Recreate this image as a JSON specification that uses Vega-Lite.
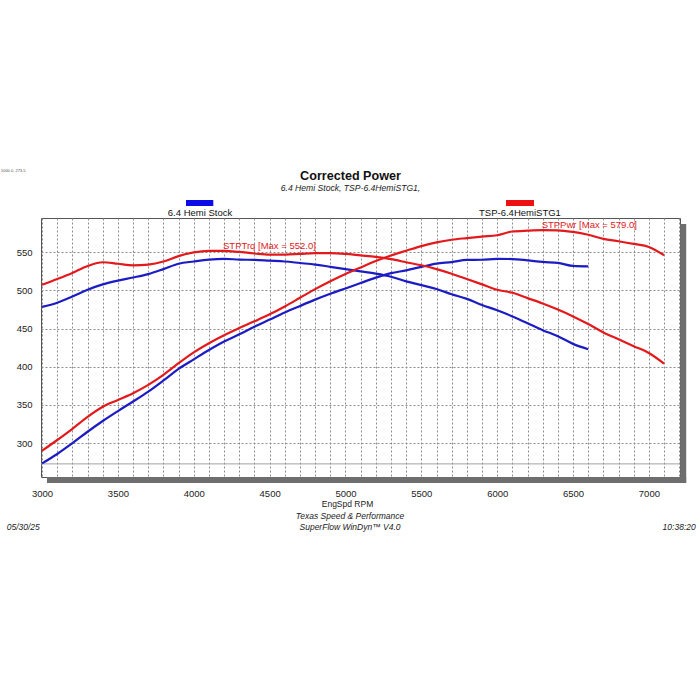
{
  "$schema": "https://vega.github.io/schema/vega-lite/v6.json",
  "description": "Corrected Power dyno chart",
  "width": 639,
  "height": 259,
  "autosize": {"type": "none"},
  "padding": {"left": 41, "top": 218, "right": 20, "bottom": 223},
  "background": "white",
  "title": {
    "text": "Corrected Power",
    "subtitle": "6.4 Hemi Stock, TSP-6.4HemiSTG1,",
    "font": "Liberation Sans",
    "fontSize": 12.6,
    "fontWeight": "bold",
    "color": "#111111",
    "subtitleFont": "Liberation Sans",
    "subtitleFontSize": 8.6,
    "subtitleFontStyle": "italic",
    "subtitleColor": "#222222",
    "subtitlePadding": 2,
    "anchor": "middle",
    "dx": -10,
    "offset": -24
  },
  "config": {
    "view": {"stroke": "#555555", "strokeWidth": 1},
    "axis": {
      "labelFont": "Liberation Sans",
      "labelFontSize": 9.5,
      "labelColor": "#222222",
      "titleFont": "Liberation Sans",
      "titleFontWeight": "normal",
      "titleColor": "#222222",
      "domain": false,
      "ticks": false,
      "tickSize": 0,
      "grid": true,
      "gridColor": "#8c8c8c",
      "gridDash": [2, 2],
      "gridWidth": 1,
      "labelOverlap": false
    },
    "axisX": {"labelOverlap": false, "labelFlush": false},
    "text": {"font": "Liberation Sans"}
  },
  "layer": [
    {
      "data": {"values": [{}]},
      "mark": {"type": "rule", "color": "#6e6e6e", "strokeWidth": 6, "strokeCap": "butt"},
      "encoding": {
        "x": {"datum": 7226.1, "type": "quantitative", "scale": {"domain": [2993, 7205], "nice": false, "zero": false}},
        "y": {"datum": 587.1, "type": "quantitative", "scale": {"domain": [255.5, 595], "nice": false, "zero": false}},
        "y2": {"datum": 247.6}
      }
    },
    {
      "data": {"values": [{}]},
      "mark": {"type": "rule", "color": "#6e6e6e", "strokeWidth": 6, "strokeCap": "butt"},
      "encoding": {
        "x": {"datum": 3032.5, "type": "quantitative"},
        "x2": {"datum": 7245.6},
        "y": {"datum": 251.6, "type": "quantitative"}
      }
    },
    {
      "data": {"values": [{}]},
      "mark": {"type": "rule", "color": "#a0a0a0", "strokeWidth": 1},
      "encoding": {
        "y": {"datum": 272.7, "type": "quantitative"}
      }
    },
    {
      "data": {
        "values": [
          {"rpm": 3000, "run": "6.4 Hemi Stock", "STPTrq": 478.5, "STPPwr": 273.3},
          {"rpm": 3100, "run": "6.4 Hemi Stock", "STPTrq": 484, "STPPwr": 285.7},
          {"rpm": 3200, "run": "6.4 Hemi Stock", "STPTrq": 492, "STPPwr": 299.8},
          {"rpm": 3300, "run": "6.4 Hemi Stock", "STPTrq": 501, "STPPwr": 314.8},
          {"rpm": 3400, "run": "6.4 Hemi Stock", "STPTrq": 508, "STPPwr": 328.9},
          {"rpm": 3500, "run": "6.4 Hemi Stock", "STPTrq": 513, "STPPwr": 341.9},
          {"rpm": 3600, "run": "6.4 Hemi Stock", "STPTrq": 517, "STPPwr": 354.4},
          {"rpm": 3700, "run": "6.4 Hemi Stock", "STPTrq": 521.5, "STPPwr": 367.4},
          {"rpm": 3800, "run": "6.4 Hemi Stock", "STPTrq": 528, "STPPwr": 382.0},
          {"rpm": 3900, "run": "6.4 Hemi Stock", "STPTrq": 535, "STPPwr": 397.3},
          {"rpm": 4000, "run": "6.4 Hemi Stock", "STPTrq": 538, "STPPwr": 409.7},
          {"rpm": 4100, "run": "6.4 Hemi Stock", "STPTrq": 540.5, "STPPwr": 421.9},
          {"rpm": 4200, "run": "6.4 Hemi Stock", "STPTrq": 541.5, "STPPwr": 433.0},
          {"rpm": 4300, "run": "6.4 Hemi Stock", "STPTrq": 540.5, "STPPwr": 442.5},
          {"rpm": 4400, "run": "6.4 Hemi Stock", "STPTrq": 540, "STPPwr": 452.4},
          {"rpm": 4500, "run": "6.4 Hemi Stock", "STPTrq": 539, "STPPwr": 461.8},
          {"rpm": 4600, "run": "6.4 Hemi Stock", "STPTrq": 538, "STPPwr": 471.2},
          {"rpm": 4700, "run": "6.4 Hemi Stock", "STPTrq": 536, "STPPwr": 479.7},
          {"rpm": 4800, "run": "6.4 Hemi Stock", "STPTrq": 534, "STPPwr": 488.0},
          {"rpm": 4900, "run": "6.4 Hemi Stock", "STPTrq": 531, "STPPwr": 495.7},
          {"rpm": 5000, "run": "6.4 Hemi Stock", "STPTrq": 528, "STPPwr": 502.7},
          {"rpm": 5100, "run": "6.4 Hemi Stock", "STPTrq": 525, "STPPwr": 509.8},
          {"rpm": 5200, "run": "6.4 Hemi Stock", "STPTrq": 522, "STPPwr": 516.8},
          {"rpm": 5300, "run": "6.4 Hemi Stock", "STPTrq": 518, "STPPwr": 522.7},
          {"rpm": 5400, "run": "6.4 Hemi Stock", "STPTrq": 512, "STPPwr": 526.4},
          {"rpm": 5500, "run": "6.4 Hemi Stock", "STPTrq": 507, "STPPwr": 530.9},
          {"rpm": 5600, "run": "6.4 Hemi Stock", "STPTrq": 502, "STPPwr": 535.3},
          {"rpm": 5700, "run": "6.4 Hemi Stock", "STPTrq": 495, "STPPwr": 537.2},
          {"rpm": 5800, "run": "6.4 Hemi Stock", "STPTrq": 489, "STPPwr": 540.0},
          {"rpm": 5900, "run": "6.4 Hemi Stock", "STPTrq": 481, "STPPwr": 540.3},
          {"rpm": 6000, "run": "6.4 Hemi Stock", "STPTrq": 474, "STPPwr": 541.5},
          {"rpm": 6100, "run": "6.4 Hemi Stock", "STPTrq": 466, "STPPwr": 541.2},
          {"rpm": 6200, "run": "6.4 Hemi Stock", "STPTrq": 457, "STPPwr": 539.5},
          {"rpm": 6300, "run": "6.4 Hemi Stock", "STPTrq": 448, "STPPwr": 537.4},
          {"rpm": 6400, "run": "6.4 Hemi Stock", "STPTrq": 440, "STPPwr": 536.2},
          {"rpm": 6500, "run": "6.4 Hemi Stock", "STPTrq": 430, "STPPwr": 532.2},
          {"rpm": 6600, "run": "6.4 Hemi Stock", "STPTrq": 423, "STPPwr": 531.6},
          {"rpm": 3000, "run": "TSP-6.4HemiSTG1", "STPTrq": 507.5, "STPPwr": 289.9},
          {"rpm": 3100, "run": "TSP-6.4HemiSTG1", "STPTrq": 515, "STPPwr": 304.0},
          {"rpm": 3200, "run": "TSP-6.4HemiSTG1", "STPTrq": 523, "STPPwr": 318.7},
          {"rpm": 3300, "run": "TSP-6.4HemiSTG1", "STPTrq": 532, "STPPwr": 334.3},
          {"rpm": 3400, "run": "TSP-6.4HemiSTG1", "STPTrq": 537, "STPPwr": 347.6},
          {"rpm": 3500, "run": "TSP-6.4HemiSTG1", "STPTrq": 535, "STPPwr": 356.5},
          {"rpm": 3600, "run": "TSP-6.4HemiSTG1", "STPTrq": 533, "STPPwr": 365.3},
          {"rpm": 3700, "run": "TSP-6.4HemiSTG1", "STPTrq": 534, "STPPwr": 376.2},
          {"rpm": 3800, "run": "TSP-6.4HemiSTG1", "STPTrq": 538, "STPPwr": 389.3},
          {"rpm": 3900, "run": "TSP-6.4HemiSTG1", "STPTrq": 545, "STPPwr": 404.7},
          {"rpm": 4000, "run": "TSP-6.4HemiSTG1", "STPTrq": 550, "STPPwr": 418.9},
          {"rpm": 4100, "run": "TSP-6.4HemiSTG1", "STPTrq": 552, "STPPwr": 430.9},
          {"rpm": 4200, "run": "TSP-6.4HemiSTG1", "STPTrq": 552, "STPPwr": 441.4},
          {"rpm": 4300, "run": "TSP-6.4HemiSTG1", "STPTrq": 550.5, "STPPwr": 450.7},
          {"rpm": 4400, "run": "TSP-6.4HemiSTG1", "STPTrq": 548.5, "STPPwr": 459.5},
          {"rpm": 4500, "run": "TSP-6.4HemiSTG1", "STPTrq": 547, "STPPwr": 468.7},
          {"rpm": 4600, "run": "TSP-6.4HemiSTG1", "STPTrq": 547, "STPPwr": 479.1},
          {"rpm": 4700, "run": "TSP-6.4HemiSTG1", "STPTrq": 548, "STPPwr": 490.4},
          {"rpm": 4800, "run": "TSP-6.4HemiSTG1", "STPTrq": 549, "STPPwr": 501.8},
          {"rpm": 4900, "run": "TSP-6.4HemiSTG1", "STPTrq": 549, "STPPwr": 512.2},
          {"rpm": 5000, "run": "TSP-6.4HemiSTG1", "STPTrq": 548, "STPPwr": 521.7},
          {"rpm": 5100, "run": "TSP-6.4HemiSTG1", "STPTrq": 546, "STPPwr": 530.2},
          {"rpm": 5200, "run": "TSP-6.4HemiSTG1", "STPTrq": 544, "STPPwr": 538.6},
          {"rpm": 5300, "run": "TSP-6.4HemiSTG1", "STPTrq": 541, "STPPwr": 545.9},
          {"rpm": 5400, "run": "TSP-6.4HemiSTG1", "STPTrq": 537, "STPPwr": 552.1},
          {"rpm": 5500, "run": "TSP-6.4HemiSTG1", "STPTrq": 533, "STPPwr": 558.2},
          {"rpm": 5600, "run": "TSP-6.4HemiSTG1", "STPTrq": 528, "STPPwr": 563.0},
          {"rpm": 5700, "run": "TSP-6.4HemiSTG1", "STPTrq": 522, "STPPwr": 566.5},
          {"rpm": 5800, "run": "TSP-6.4HemiSTG1", "STPTrq": 515, "STPPwr": 568.7},
          {"rpm": 5900, "run": "TSP-6.4HemiSTG1", "STPTrq": 508, "STPPwr": 570.7},
          {"rpm": 6000, "run": "TSP-6.4HemiSTG1", "STPTrq": 501, "STPPwr": 572.4},
          {"rpm": 6100, "run": "TSP-6.4HemiSTG1", "STPTrq": 497, "STPPwr": 577.3},
          {"rpm": 6200, "run": "TSP-6.4HemiSTG1", "STPTrq": 490, "STPPwr": 578.4},
          {"rpm": 6300, "run": "TSP-6.4HemiSTG1", "STPTrq": 483, "STPPwr": 579.0},
          {"rpm": 6400, "run": "TSP-6.4HemiSTG1", "STPTrq": 475, "STPPwr": 578.8},
          {"rpm": 6500, "run": "TSP-6.4HemiSTG1", "STPTrq": 466, "STPPwr": 576.7},
          {"rpm": 6600, "run": "TSP-6.4HemiSTG1", "STPTrq": 456, "STPPwr": 573.0},
          {"rpm": 6700, "run": "TSP-6.4HemiSTG1", "STPTrq": 445, "STPPwr": 567.7},
          {"rpm": 6800, "run": "TSP-6.4HemiSTG1", "STPTrq": 436, "STPPwr": 564.5},
          {"rpm": 6900, "run": "TSP-6.4HemiSTG1", "STPTrq": 427, "STPPwr": 561.0},
          {"rpm": 7000, "run": "TSP-6.4HemiSTG1", "STPTrq": 418, "STPPwr": 557.1},
          {"rpm": 7100, "run": "TSP-6.4HemiSTG1", "STPTrq": 404, "STPPwr": 546.2}
        ]
      },
      "transform": [{"fold": ["STPTrq", "STPPwr"], "as": ["measure", "value"]}],
      "mark": {"type": "line", "strokeWidth": 2.2, "interpolate": "monotone"},
      "encoding": {
        "x": {
          "field": "rpm",
          "type": "quantitative",
          "axis": {
            "title": "EngSpd RPM",
            "titleFontSize": 8.5,
            "titleX": 306,
            "titleY": 26,
            "titleAlign": "center",
            "titleBaseline": "middle",
            "tickCount": 200,
            "values": [3000, 3100, 3200, 3300, 3400, 3500, 3600, 3700, 3800, 3900, 4000, 4100, 4200, 4300, 4400, 4500, 4600, 4700, 4800, 4900, 5000, 5100, 5200, 5300, 5400, 5500, 5600, 5700, 5800, 5900, 6000, 6100, 6200, 6300, 6400, 6500, 6600, 6700, 6800, 6900, 7000, 7100, 7200],
            "labelExpr": "datum.value % 500 === 0 ? '' + datum.value : ''",
            "labelOverlap": false,
            "labelFlush": false,
            "labelBaseline": "middle",
            "labelPadding": 16
          }
        },
        "y": {
          "field": "value",
          "type": "quantitative",
          "axis": {
            "title": null,
            "tickCount": 20,
            "values": [300, 350, 400, 450, 500, 550],
            "labelPadding": 9
          }
        },
        "color": {
          "field": "run",
          "type": "nominal",
          "scale": {"domain": ["6.4 Hemi Stock", "TSP-6.4HemiSTG1"], "range": ["#1c1cc4", "#e3191c"]},
          "legend": null
        },
        "detail": {"field": "measure"}
      }
    },
    {
      "data": {"values": [{}]},
      "mark": {"type": "text", "align": "left", "baseline": "middle", "fontSize": 9.5, "color": "#e3191c"},
      "encoding": {
        "x": {"datum": 4192.6, "type": "quantitative"},
        "y": {"datum": 558.7, "type": "quantitative"},
        "text": {"value": "STPTrq [Max = 552.0]"}
      }
    },
    {
      "data": {"values": [{}]},
      "mark": {"type": "text", "align": "left", "baseline": "middle", "fontSize": 9.5, "color": "#e3191c"},
      "encoding": {
        "x": {"datum": 6293, "type": "quantitative"},
        "y": {"datum": 585.8, "type": "quantitative"},
        "text": {"value": "STPPwr [Max = 579.0]"}
      }
    },
    {
      "data": {"values": [{}]},
      "mark": {"type": "rect", "color": "#0b0be8"},
      "encoding": {
        "x": {"datum": 3948.8, "type": "quantitative"},
        "x2": {"datum": 4128.7},
        "y": {"datum": 618.6, "type": "quantitative"},
        "y2": {"datum": 610.7}
      }
    },
    {
      "data": {"values": [{}]},
      "mark": {"type": "rect", "color": "#ee1111"},
      "encoding": {
        "x": {"datum": 6058, "type": "quantitative"},
        "x2": {"datum": 6242.6},
        "y": {"datum": 618.6, "type": "quantitative"},
        "y2": {"datum": 610.7}
      }
    },
    {
      "data": {"values": [{}]},
      "mark": {"type": "text", "align": "center", "baseline": "middle", "fontSize": 9.5, "color": "#111111"},
      "encoding": {
        "x": {"datum": 4041, "type": "quantitative"},
        "y": {"datum": 601.2, "type": "quantitative"},
        "text": {"value": "6.4 Hemi Stock"}
      }
    },
    {
      "data": {"values": [{}]},
      "mark": {"type": "text", "align": "center", "baseline": "middle", "fontSize": 9.5, "color": "#111111"},
      "encoding": {
        "x": {"datum": 6150, "type": "quantitative"},
        "y": {"datum": 601.2, "type": "quantitative"},
        "text": {"value": "TSP-6.4HemiSTG1"}
      }
    },
    {
      "data": {"values": [{}]},
      "mark": {"type": "text", "align": "left", "baseline": "middle", "fontSize": 4, "color": "#555555"},
      "encoding": {
        "x": {"datum": 2729, "type": "quantitative"},
        "y": {"datum": 656.6, "type": "quantitative"},
        "text": {"value": "5000.0, 273.5"}
      }
    },
    {
      "data": {"values": [{}]},
      "mark": {"type": "text", "align": "center", "baseline": "middle", "fontSize": 8.5, "fontStyle": "italic", "color": "#222222"},
      "encoding": {
        "x": {"datum": 5030, "type": "quantitative"},
        "y": {"datum": 204.0, "type": "quantitative"},
        "text": {"value": "Texas Speed & Performance"}
      }
    },
    {
      "data": {"values": [{}]},
      "mark": {"type": "text", "align": "center", "baseline": "middle", "fontSize": 8.5, "fontStyle": "italic", "color": "#222222"},
      "encoding": {
        "x": {"datum": 5030, "type": "quantitative"},
        "y": {"datum": 190.4, "type": "quantitative"},
        "text": {"value": "SuperFlow WinDyn™ V4.0"}
      }
    },
    {
      "data": {"values": [{}]},
      "mark": {"type": "text", "align": "left", "baseline": "middle", "fontSize": 8.5, "fontStyle": "italic", "color": "#222222"},
      "encoding": {
        "x": {"datum": 2767, "type": "quantitative"},
        "y": {"datum": 190.4, "type": "quantitative"},
        "text": {"value": "05/30/25"}
      }
    },
    {
      "data": {"values": [{}]},
      "mark": {"type": "text", "align": "right", "baseline": "middle", "fontSize": 8.5, "fontStyle": "italic", "color": "#222222"},
      "encoding": {
        "x": {"datum": 7308.5, "type": "quantitative"},
        "y": {"datum": 190.4, "type": "quantitative"},
        "text": {"value": "10:38:20"}
      }
    }
  ]
}
